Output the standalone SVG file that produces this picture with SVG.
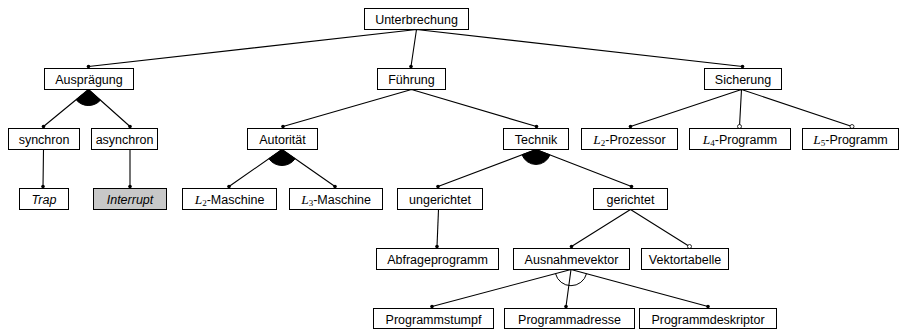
<svg xmlns="http://www.w3.org/2000/svg" width="901" height="329" viewBox="0 0 901 329">
<style>
.box{fill:#fff;stroke:#000;stroke-width:1}
.gray{fill:#c8c8c8}
.t{font-family:"Liberation Sans",Arial,sans-serif;font-size:12.5px;text-anchor:middle;fill:#000}
.it{font-style:italic}
.m{font-family:"Liberation Serif","Times New Roman",serif;font-style:italic;font-size:13.5px}
.s{font-family:"Liberation Serif","Times New Roman",serif;font-size:9px}
.ln{stroke:#000;stroke-width:1.1;fill:none}
.dot{fill:#000}
.opt{fill:#fff;stroke:#000;stroke-width:0.8}
.or{fill:#000;stroke:#000;stroke-width:1}
.alt{fill:none;stroke:#000;stroke-width:1}
</style>
<rect width="901" height="329" fill="#fff"/>
<g id="connectors">
<path class="ln" d="M416.5,29.5 L88.5,66.5 M416.5,29.5 L411,66.5 M416.5,29.5 L742.5,66.5"/>
<path class="ln" d="M88.5,89.5 L43.5,126.5 M88.5,89.5 L130,126.5"/>
<path class="or" d="M88.5,89.5 L76.1,99.7 A16 16 0 0 0 100.4,100.2 Z"/>
<path class="ln" d="M43.5,149.5 L43,186.5 M130,149.5 L130,186.5"/>
<path class="ln" d="M411.5,89.5 L283,126.5 M411.5,89.5 L536.5,126.5"/>
<path class="ln" d="M282,149.5 L229,186.5 M282,149.5 L335,186.5"/>
<path class="or" d="M282,149.5 L268.9,158.7 A16 16 0 0 0 295.1,158.7 Z"/>
<path class="ln" d="M536,149.5 L438,186.5 M536,149.5 L631.5,186.5"/>
<path class="or" d="M536,149.5 L522,154.8 A15 15 0 0 0 550,154.9 Z"/>
<path class="ln" d="M438.5,209.5 L437,246.5"/>
<path class="ln" d="M630.5,209.5 L571.5,246.5 M630.5,209.5 L689.5,246.5"/>
<path class="ln" d="M741.5,89.5 L630.5,126.5 M741.5,89.5 L739.5,126.5 M741.5,89.5 L852,126.5"/>
<path class="ln" d="M571,269.5 L432,306.5 M571,269.5 L566,306.5 M571,269.5 L708,306.5"/>
<path class="alt" d="M555.5,273.6 A16 16 0 0 0 586.5,273.7"/>
<circle class="dot" cx="88.5" cy="66.5" r="1.8"/>
<circle class="dot" cx="411" cy="66.5" r="1.8"/>
<circle class="dot" cx="742.5" cy="66.5" r="1.8"/>
<circle class="dot" cx="43.5" cy="126.5" r="1.8"/>
<circle class="dot" cx="130" cy="126.5" r="1.8"/>
<circle class="dot" cx="43" cy="186.5" r="1.8"/>
<circle class="dot" cx="130" cy="186.5" r="1.8"/>
<circle class="dot" cx="283" cy="126.5" r="1.8"/>
<circle class="dot" cx="536.5" cy="126.5" r="1.8"/>
<circle class="dot" cx="229" cy="186.5" r="1.8"/>
<circle class="dot" cx="335" cy="186.5" r="1.8"/>
<circle class="dot" cx="438" cy="186.5" r="1.8"/>
<circle class="dot" cx="631.5" cy="186.5" r="1.8"/>
<circle class="dot" cx="437" cy="246.5" r="1.8"/>
<circle class="dot" cx="571.5" cy="246.5" r="1.8"/>
<circle class="opt" cx="689.5" cy="246.5" r="2"/>
<circle class="dot" cx="630.5" cy="126.5" r="1.8"/>
<circle class="opt" cx="739.5" cy="126.5" r="2"/>
<circle class="opt" cx="852" cy="126.5" r="2"/>
<circle class="dot" cx="432" cy="306.5" r="1.8"/>
<circle class="dot" cx="566" cy="306.5" r="1.8"/>
<circle class="dot" cx="708" cy="306.5" r="1.8"/>
</g>
<g id="n-unterbrechung"><rect class="box" x="364.5" y="8.5" width="104" height="21"/><text class="t" x="416.5" y="23.5">Unterbrechung</text></g>
<g id="n-auspraegung"><rect class="box" x="44.5" y="68.5" width="89" height="21"/><text class="t" x="89" y="83.5">Ausprägung</text></g>
<g id="n-fuehrung"><rect class="box" x="377.5" y="68.5" width="68" height="21"/><text class="t" x="411.5" y="83.5">Führung</text></g>
<g id="n-sicherung"><rect class="box" x="704.5" y="68.5" width="77" height="21"/><text class="t" x="743" y="83.5">Sicherung</text></g>
<g id="n-synchron"><rect class="box" x="8.5" y="128.5" width="71" height="21"/><text class="t" x="44" y="143.5">synchron</text></g>
<g id="n-asynchron"><rect class="box" x="91.5" y="128.5" width="66" height="21"/><text class="t" x="124.5" y="143.5">asynchron</text></g>
<g id="n-autoritaet"><rect class="box" x="247.5" y="128.5" width="70" height="21"/><text class="t" x="282.5" y="143.5">Autorität</text></g>
<g id="n-technik"><rect class="box" x="503.5" y="128.5" width="65" height="21"/><text class="t" x="536" y="143.5">Technik</text></g>
<g id="n-l2prozessor"><rect class="box" x="581.5" y="128.5" width="96" height="21"/><text class="t" x="629.5" y="143.5"><tspan class="m">L</tspan><tspan class="s" dy="2.5">2</tspan><tspan dy="-2.5">-Prozessor</tspan></text></g>
<g id="n-l4programm"><rect class="box" x="689.5" y="128.5" width="101" height="21"/><text class="t" x="740" y="143.5"><tspan class="m">L</tspan><tspan class="s" dy="2.5">4</tspan><tspan dy="-2.5">-Programm</tspan></text></g>
<g id="n-l5programm"><rect class="box" x="802.5" y="128.5" width="96" height="21"/><text class="t" x="850.5" y="143.5"><tspan class="m">L</tspan><tspan class="s" dy="2.5">5</tspan><tspan dy="-2.5">-Programm</tspan></text></g>
<g id="n-trap"><rect class="box" x="19.5" y="188.5" width="49" height="21"/><text class="t it" x="44" y="203.5">Trap</text></g>
<g id="n-interrupt"><rect class="box gray" x="93.5" y="188.5" width="73" height="21"/><text class="t it" x="130" y="203.5">Interrupt</text></g>
<g id="n-l2maschine"><rect class="box" x="182.5" y="188.5" width="94" height="21"/><text class="t" x="229.5" y="203.5"><tspan class="m">L</tspan><tspan class="s" dy="2.5">2</tspan><tspan dy="-2.5">-Maschine</tspan></text></g>
<g id="n-l3maschine"><rect class="box" x="289.5" y="188.5" width="93" height="21"/><text class="t" x="336" y="203.5"><tspan class="m">L</tspan><tspan class="s" dy="2.5">3</tspan><tspan dy="-2.5">-Maschine</tspan></text></g>
<g id="n-ungerichtet"><rect class="box" x="397.5" y="188.5" width="85" height="21"/><text class="t" x="440" y="203.5">ungerichtet</text></g>
<g id="n-gerichtet"><rect class="box" x="593.5" y="188.5" width="74" height="21"/><text class="t" x="630.5" y="203.5">gerichtet</text></g>
<g id="n-abfrageprogramm"><rect class="box" x="376.5" y="248.5" width="122" height="21"/><text class="t" x="437.5" y="263.5">Abfrageprogramm</text></g>
<g id="n-ausnahmevektor"><rect class="box" x="513.5" y="248.5" width="116" height="21"/><text class="t" x="571.5" y="263.5">Ausnahmevektor</text></g>
<g id="n-vektortabelle"><rect class="box" x="641.5" y="248.5" width="87" height="21"/><text class="t" x="685" y="263.5">Vektortabelle</text></g>
<g id="n-programmstumpf"><rect class="box" x="373.5" y="308.5" width="120" height="20"/><text class="t" x="433.5" y="323.5">Programmstumpf</text></g>
<g id="n-programmadresse"><rect class="box" x="504.5" y="308.5" width="130" height="20"/><text class="t" x="569.5" y="323.5">Programmadresse</text></g>
<g id="n-programmdeskriptor"><rect class="box" x="639.5" y="308.5" width="137" height="20"/><text class="t" x="708" y="323.5">Programmdeskriptor</text></g>
</svg>
